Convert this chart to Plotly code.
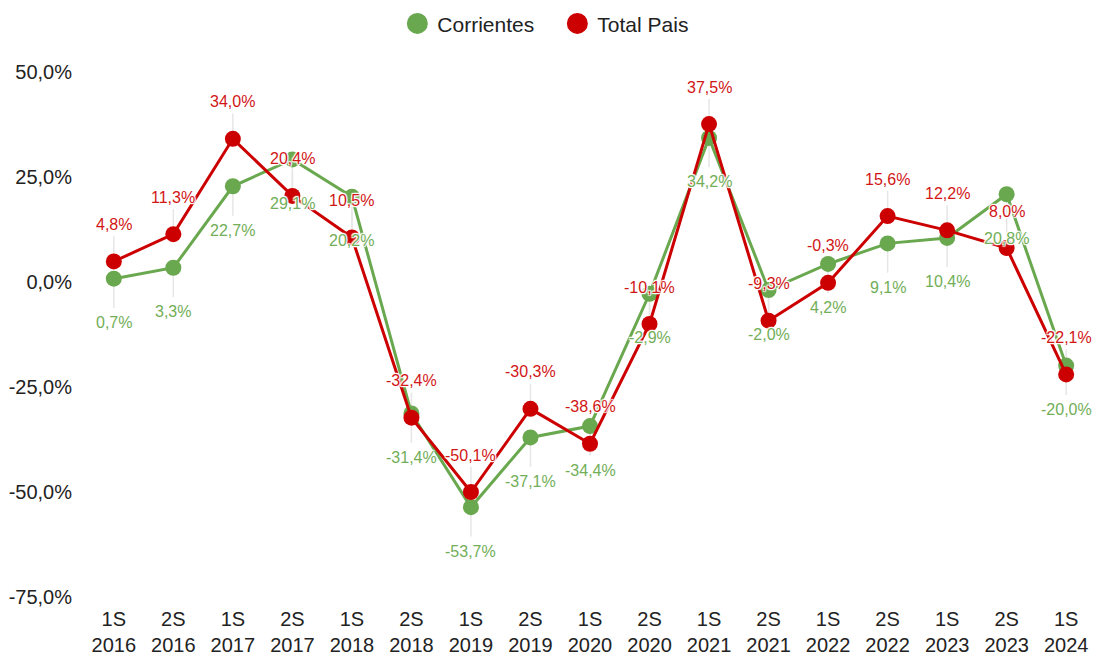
"""Corrientes vs Total Pais, semestral variation (Plotly)."""

import plotly.graph_objects as go

PERIODS = [
    "1S 2016", "2S 2016", "1S 2017", "2S 2017", "1S 2018", "2S 2018",
    "1S 2019", "2S 2019", "1S 2020", "2S 2020", "1S 2021", "2S 2021",
    "1S 2022", "2S 2022", "1S 2023", "2S 2023", "1S 2024",
]
CORRIENTES = [0.7, 3.3, 22.7, 29.1, 20.2, -31.4, -53.7, -37.1, -34.4, -2.9,
              34.2, -2.0, 4.2, 9.1, 10.4, 20.8, -20.0]
TOTAL_PAIS = [4.8, 11.3, 34.0, 20.4, 10.5, -32.4, -50.1, -30.3, -38.6, -10.1,
              37.5, -9.3, -0.3, 15.6, 12.2, 8.0, -22.1]
Y_TICKS = [50, 25, 0, -25, -50, -75]
Y_TICK_TEXT = ["50,0%", "25,0%", "0,0%", "-25,0%", "-50,0%", "-75,0%"]

GREEN = "#6AA84F"
RED = "#CC0000"
GREEN_TXT = "#72AE58"
RED_TXT = "#D11616"
LEADER = "#E6E6E6"
AXIS_FONT = "Liberation Sans, Arial, sans-serif"
LABEL_FONT = "Liberation Sans, Arial, sans-serif"
HALO = ("1px 1px 1px #fff, -1px -1px 1px #fff, 1px -1px 1px #fff, "
        "-1px 1px 1px #fff, 0 1px 1px #fff, 0 -1px 1px #fff")

x_labels = [p.replace(" ", "<br>") for p in PERIODS]


def pct(v):
    return f"{v:.1f}".replace(".", ",") + "%"


fig = go.Figure()

# Thin grey leader lines behind everything (one-sided error bars).
fig.add_trace(go.Scatter(
    x=x_labels, y=CORRIENTES, mode="markers", marker=dict(opacity=0),
    showlegend=False, hoverinfo="skip",
    error_y=dict(type="constant", symmetric=False, value=0, valueminus=7.0,
                 width=0, thickness=1.5, color=LEADER),
))
fig.add_trace(go.Scatter(
    x=x_labels, y=TOTAL_PAIS, mode="markers", marker=dict(opacity=0),
    showlegend=False, hoverinfo="skip",
    error_y=dict(type="constant", symmetric=False, value=6.0, valueminus=0,
                 width=0, thickness=1.5, color=LEADER),
))

for name, vals, color in (("Corrientes", CORRIENTES, GREEN),
                          ("Total Pais", TOTAL_PAIS, RED)):
    fig.add_trace(go.Scatter(
        x=x_labels, y=vals, mode="lines+markers", name=name,
        line=dict(color=color, width=3),
        marker=dict(color=color, size=16),
        showlegend=False,
        hovertemplate="%{y:.1f}%<extra>" + name + "</extra>",
    ))
    # legend-only entry: plain circle
    fig.add_trace(go.Scatter(
        x=[None], y=[None], mode="markers", name=name,
        marker=dict(color=color, size=16, line=dict(color=color, width=5)),
    ))

# Value labels: Total Pais above, Corrientes below.
for xl, v in zip(x_labels, TOTAL_PAIS):
    fig.add_annotation(x=xl, y=v, text=pct(v), showarrow=False, yshift=37,
                       font=dict(family=LABEL_FONT, size=16, color=RED_TXT,
                                 shadow=HALO))
for xl, v in zip(x_labels, CORRIENTES):
    fig.add_annotation(x=xl, y=v, text=pct(v), showarrow=False, yshift=-44,
                       font=dict(family=LABEL_FONT, size=16, color=GREEN_TXT,
                                 shadow=HALO))

fig.update_layout(
    width=1095, height=655,
    margin=dict(l=93, r=8, t=59, b=50),
    paper_bgcolor="white", plot_bgcolor="white",
    separators=",.",
    font=dict(family=AXIS_FONT, size=20, color="#222222"),
    legend=dict(orientation="h", xref="container", x=0.509, xanchor="center",
                yref="container", y=0.995, yanchor="top", entrywidth=115,
                font=dict(family=AXIS_FONT, size=21, color="#222222"),
                bgcolor="rgba(0,0,0,0)"),
    xaxis=dict(type="category", range=[-0.35, 16.35], showgrid=False,
               showline=False, zeroline=False, tickfont=dict(size=20),
               ticklabelstandoff=0, automargin=False),
    yaxis=dict(range=[-77, 53], tickmode="array", tickvals=Y_TICKS,
               ticktext=Y_TICK_TEXT, showgrid=False, showline=False,
               zeroline=False, tickfont=dict(size=20), ticklabelstandoff=20,
               automargin=False),
    hovermode="closest",
)

fig.write_html("out.html", config={"displayModeBar": False},
               post_script="document.body.style.margin='0';")
